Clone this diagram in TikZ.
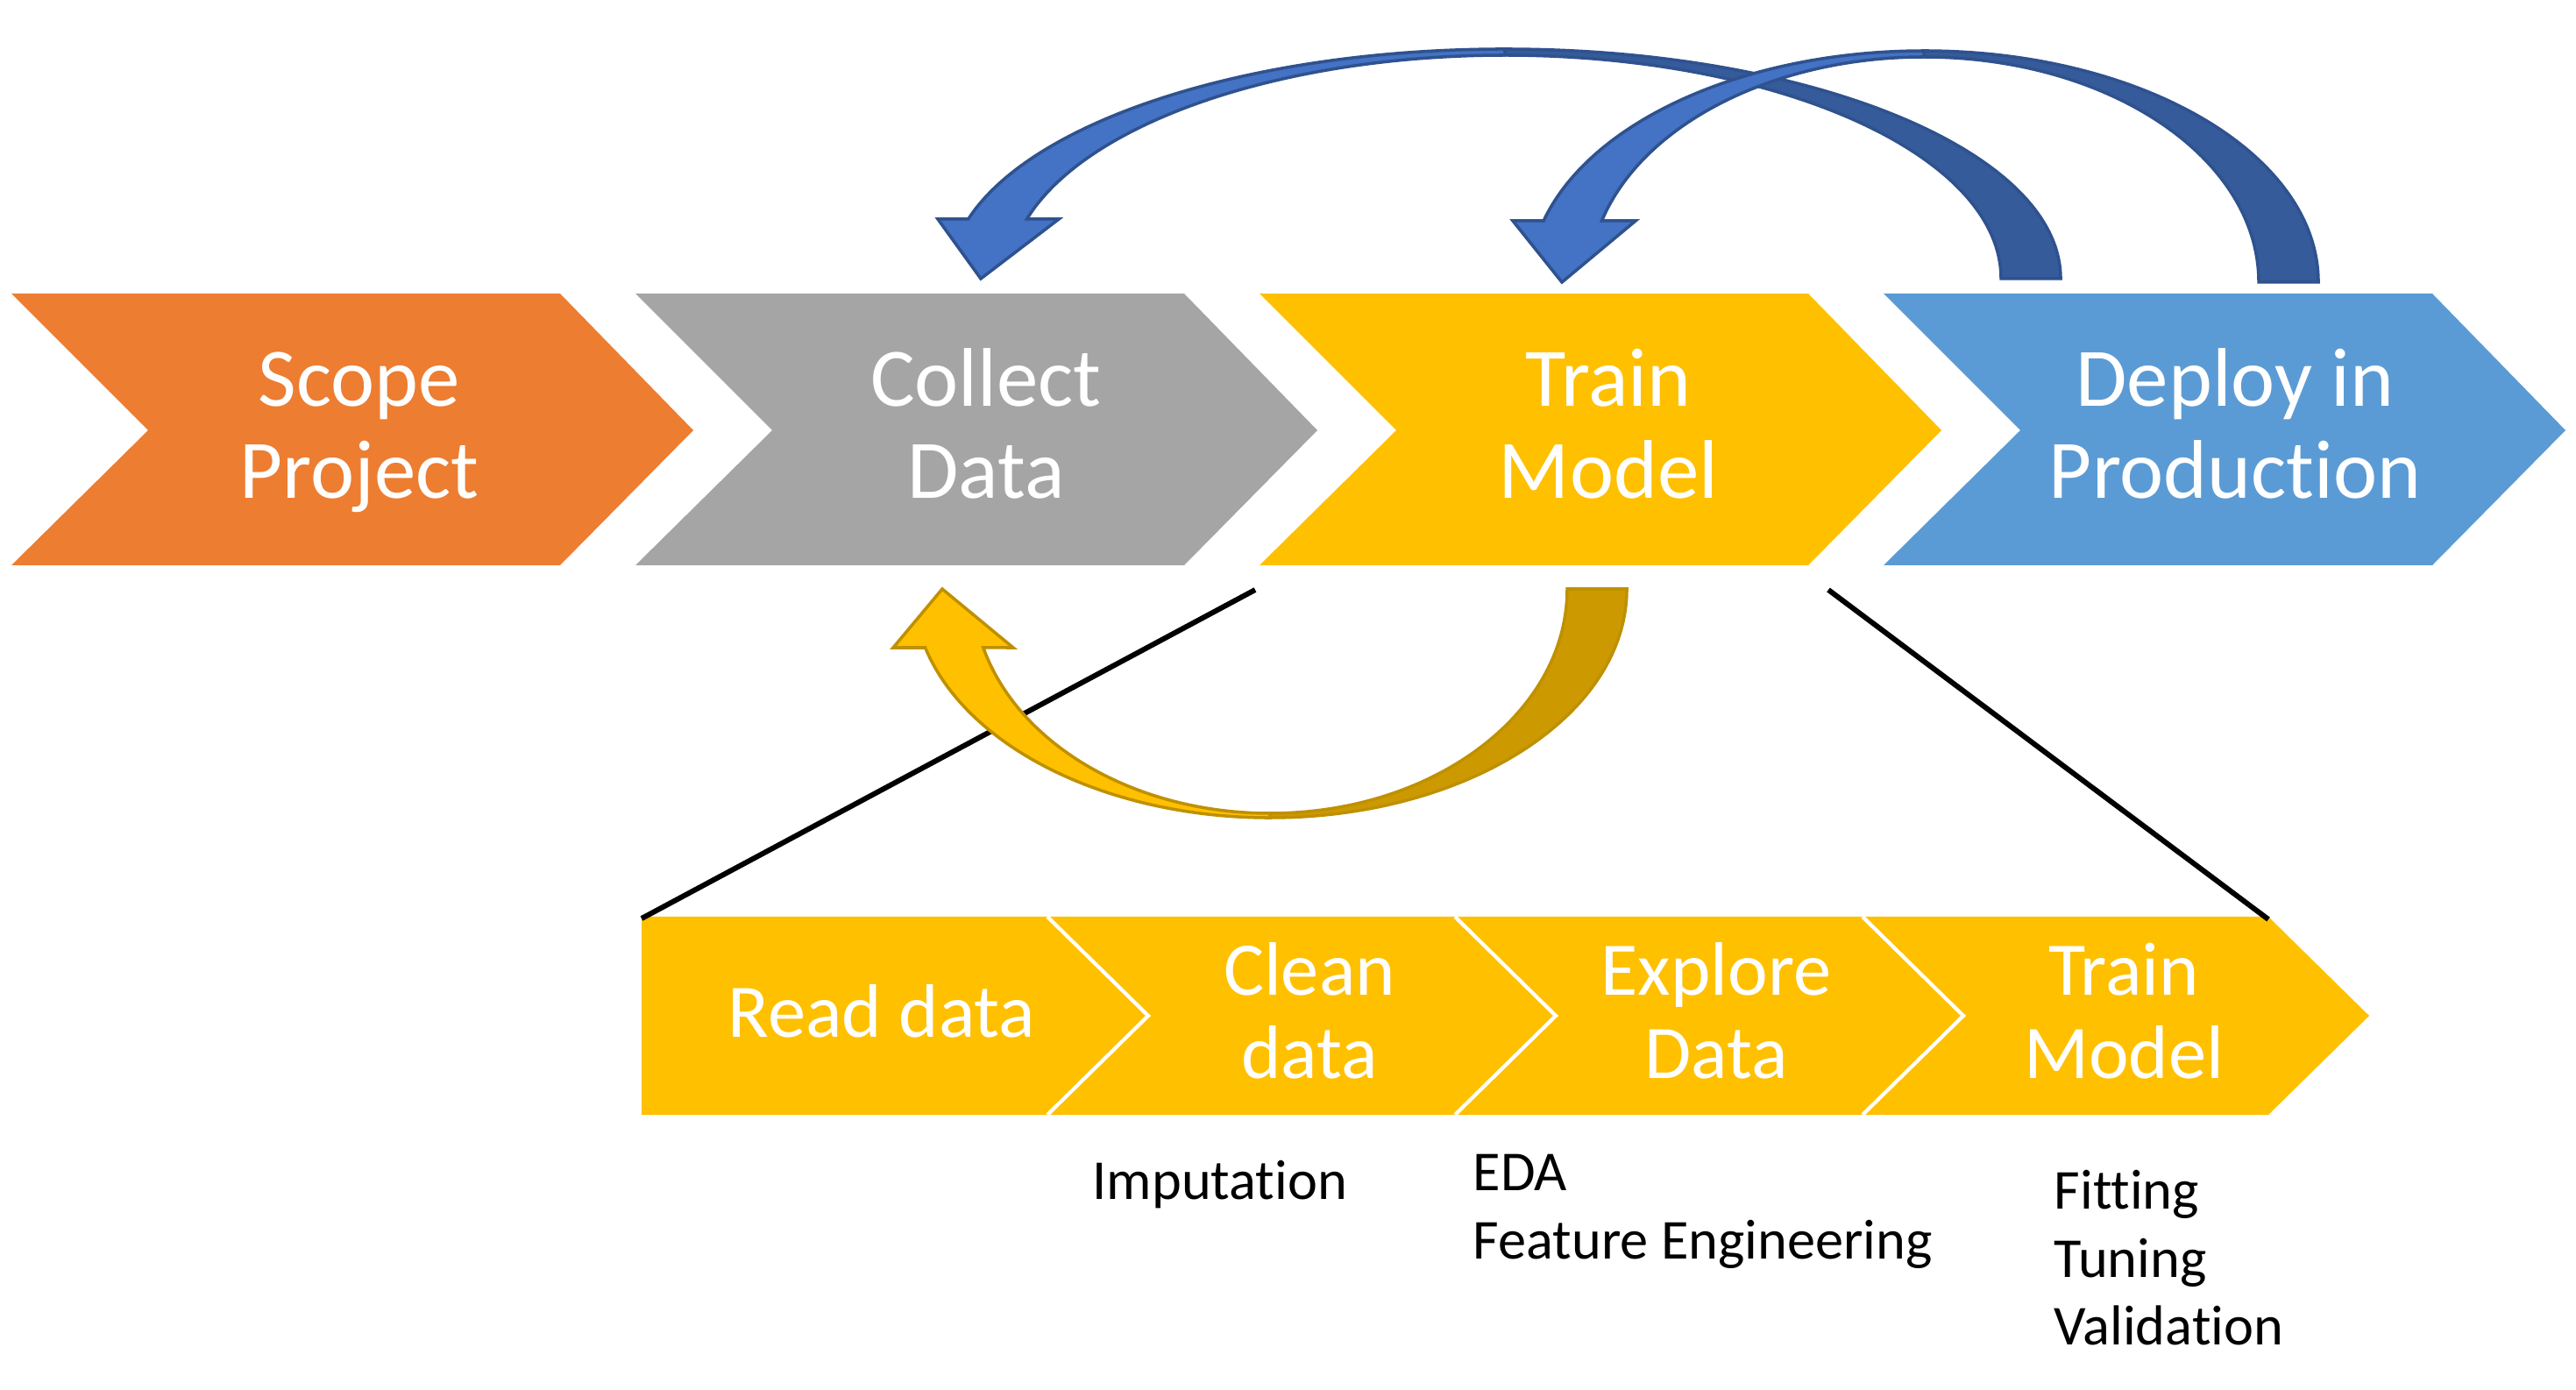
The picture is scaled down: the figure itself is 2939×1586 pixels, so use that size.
\documentclass[tikz,border=0pt]{standalone}
\usepackage{fontspec}
\setmainfont[Ligatures=NoCommon]{Carlito}
\usetikzlibrary{positioning,calc}

\definecolor{scopeorange}{RGB}{237,125,49}
\definecolor{collectgray}{RGB}{165,165,165}
\definecolor{trainyellow}{RGB}{255,192,0}
\definecolor{deployblue}{RGB}{91,155,213}
\definecolor{loopblue}{RGB}{68,114,196}
\definecolor{loopbluedark}{RGB}{53,91,155}
\definecolor{loopblueline}{RGB}{47,82,143}
\definecolor{loopgold}{RGB}{255,192,0}
\definecolor{loopgolddark}{RGB}{204,154,0}
\definecolor{loopgoldline}{RGB}{191,144,0}

\begin{document}
\begin{tikzpicture}[x=0.01cm,y=-0.01cm]
  \tikzset{stage/.style={font=\fontsize{27}{30}\selectfont, text=white, align=center, anchor=base, inner sep=0pt},
    substage/.style={font=\fontsize{24.6}{27}\selectfont, text=white, align=center, anchor=base, inner sep=0pt},
    note/.style={font=\fontsize{18.3}{22}\selectfont, align=left, anchor=north west, inner sep=0pt},
    zoomline/.style={line width=1.7pt, black},
    bluefront/.style={fill=loopblue, draw=loopblueline, line width=1pt},
    blueback/.style={fill=loopbluedark, draw=loopblueline, line width=1pt},
    goldfront/.style={fill=loopgold, draw=loopgoldline, line width=1pt},
    goldback/.style={fill=loopgolddark, draw=loopgoldline, line width=1pt}
  }
  \useasboundingbox (0,0) rectangle (2939,1586);

  % main stages
  \foreach \x/\col in {13/scopeorange, 725/collectgray, 1437/trainyellow, 2149/deployblue}
    \fill[\col] (\x,335) -- ++(626,0) -- ++(152,156) -- ++(-152,154) -- ++(-626,0) -- ++(156,-154) -- cycle;

  % (base = baseline of the last line)
  \node[stage] (scope) at (410,569) {Scope\\Project};
  \node[stage] (collect) at (1125,569) {Collect\\Data};
  \node[stage] (train) at (1835,569) {Train\\Model};
  \node[stage] (deploy) at (2550,569) {Deploy in\\Production};

  % steps of training
  \fill[trainyellow] (732,1046) -- (2588,1046) -- (2703,1159) -- (2588,1272) -- (732,1272) -- cycle;
  \foreach \x in {1195,1660,2125}
    \draw[white, line width=1.2pt] (\x,1046) -- ++(115,113) -- ++(-115,113);

  \node[substage] (read) at (1006,1183) {Read data};
  \node[substage] (clean) at (1494,1230) {Clean\\data};
  \node[substage] (explore) at (1958,1230) {Explore\\Data};
  \node[substage] (fit) at (2423,1230) {Train\\Model};

  \node[note] (imput) at (1246,1324) {Imputation};
  \node[note] (eda) at (1680,1317) {EDA\\Feature Engineering};
  \node[note] (tune) at (2343,1335) {Fitting\\Tuning\\Validation};

  \coordinate (zoom-l) at (1432,673);
  \coordinate (zoom-r) at (2086,673);
  \coordinate (steps-l) at (732,1048);
  \coordinate (steps-r) at (2588,1049);
  \draw[zoomline] (zoom-l) -- (steps-l);
  \draw[zoomline] (zoom-r) -- (steps-r);

  % loop back: deploy -> collect
  \draw[blueback] (1717,56) arc[start angle=270, end angle=360, x radius=634, y radius=262] -- (2283,318)
    arc[start angle=0, end angle=-90, x radius=566, y radius=255] -- cycle;
  \draw[bluefront] (1104.7,250) arc[start angle=195.04, end angle=270, x radius=634, y radius=262] -- (1717,63)
    arc[start angle=270, end angle=195.47, x radius=566, y radius=255] -- (1208,250) -- (1119,318) -- (1070,250) -- cycle;

  % loop back: deploy -> train
  \draw[blueback] (2195,58) arc[start angle=270, end angle=360, x radius=450, y radius=264] -- (2577,322)
    arc[start angle=0, end angle=-90, x radius=382, y radius=257] -- cycle;
  \draw[bluefront] (1761.1,252) arc[start angle=195.38, end angle=270, x radius=450, y radius=264] -- (2195,65)
    arc[start angle=270, end angle=195.81, x radius=382, y radius=257] -- (1866,252) -- (1782,322) -- (1726,252) -- cycle;

  % loop back: train -> collect
  \draw[goldback] (1449,933) arc[start angle=90, end angle=0, x radius=407, y radius=261] -- (1788,672)
    arc[start angle=0, end angle=90, x radius=339, y radius=256] -- cycle;
  \draw[goldfront] (1055.6,739) arc[start angle=165.13, end angle=90, x radius=407, y radius=261] -- (1449,928)
    arc[start angle=90, end angle=164.83, x radius=339, y radius=256] -- (1156,739) -- (1075,672) -- (1019,739) -- cycle;
\end{tikzpicture}
\end{document}
